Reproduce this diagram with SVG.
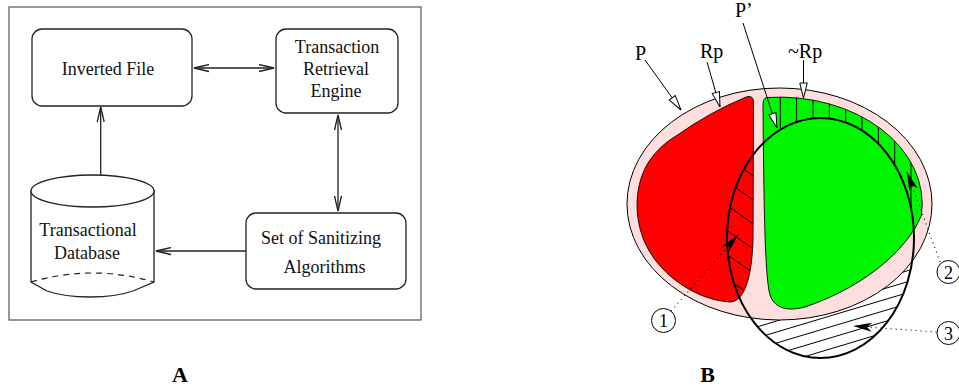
<svg xmlns="http://www.w3.org/2000/svg" width="959" height="387" viewBox="0 0 959 387">
<style>
.box{fill:#fff;stroke:#222;stroke-width:1.3}
.lbl{font-family:"Liberation Serif","Times New Roman",serif;font-size:18px;fill:#111;text-anchor:middle}
.conn{fill:none;stroke:#222;stroke-width:1.3}
.big{font-family:"Liberation Serif","Times New Roman",serif;font-size:22px;font-weight:bold;fill:#000;text-anchor:middle}
.tl{font-family:"Liberation Serif","Times New Roman",serif;font-size:20px;fill:#000}
.num{font-family:"Liberation Serif","Times New Roman",serif;font-size:18px;fill:#000;text-anchor:middle}
.thin{fill:none;stroke:#000;stroke-width:1}
.dot{fill:none;stroke:#000;stroke-width:1.1;stroke-dasharray:1 4}
.hatch{stroke:#000;stroke-width:1}
</style>
<defs>
<marker id="chev" markerUnits="userSpaceOnUse" markerWidth="17" markerHeight="9" refX="15" refY="3.5" orient="auto-start-reverse" viewBox="-1 -1 17 9">
<path d="M0,0 L15,3.5 L0,7" fill="none" stroke="#222" stroke-width="1.3"/>
</marker>
<marker id="tri" markerUnits="userSpaceOnUse" markerWidth="17" markerHeight="10" refX="15" refY="3.75" orient="auto" viewBox="-1 -1 17 10">
<path d="M0,0 L15,3.75 L0,7.5 Z" fill="#fff" stroke="#000" stroke-width="1"/>
</marker>
<marker id="blk" markerUnits="userSpaceOnUse" markerWidth="21" markerHeight="11" refX="19" refY="4.5" orient="auto" viewBox="-1 -1 21 11">
<path d="M0,0 L19,4.5 L0,9 L5,4.5 Z" fill="#000"/>
</marker>
<clipPath id="blackClip"><ellipse cx="820.5" cy="238" rx="93.5" ry="120"/></clipPath>
<clipPath id="redClip"><path d="M748,96.5 Q753.5,96 753.5,102 L753,240 C752,270 747,300 731,302 C700,301 662,278 646,245 C633,218 634,183 650,160 C657,150 666,142 676,136 Q710,112 745,97.5 Z"/></clipPath>
<clipPath id="greenClip"><path d="M767,97.5 A143 107 0 0 1 921.5,215 C910,245 870,285 805,307 C790,311 775,310 770,295 C766,280 764,240 763,105 Q763,97.5 767,97.5 Z"/></clipPath>
<mask id="outBlack"><rect x="600" y="0" width="359" height="387" fill="#fff"/><ellipse cx="820.5" cy="238" rx="93.5" ry="120" fill="#000"/></mask>
</defs>
<rect width="959" height="387" fill="#fff"/>

<!-- Panel A -->
<rect x="9" y="7" width="412" height="313" fill="none" stroke="#555" stroke-width="1.2"/>

<g id="inverted-file">
<rect class="box" x="32" y="29" width="160" height="77" rx="10"/>
<text class="lbl" x="108" y="75">Inverted File</text>
</g>
<g id="retrieval-engine">
<rect class="box" x="276" y="29" width="122" height="84" rx="10"/>
<text class="lbl"><tspan x="337" y="53">Transaction</tspan><tspan x="336" y="75">Retrieval</tspan><tspan x="336" y="97">Engine</tspan></text>
</g>
<g id="sanitizing">
<rect class="box" x="246" y="213" width="160" height="76" rx="10"/>
<text class="lbl"><tspan x="321" y="244">Set of Sanitizing</tspan><tspan x="324.5" y="273">Algorithms</tspan></text>
</g>
<g id="database">
<path class="box" d="M31,191 L31,282 L47,291 C70,299 110,299 133,291 L154,282 L154,191 Z"/>
<ellipse class="box" cx="92.5" cy="191" rx="61.5" ry="16"/>
<path d="M31,282 Q92.5,264 154,282" fill="none" stroke="#222" stroke-width="1.2" stroke-dasharray="6 5"/>
<text class="lbl"><tspan x="88" y="236">Transactional</tspan><tspan x="87" y="259">Database</tspan></text>
</g>
<g id="connectors-A">
<line class="conn" x1="194" y1="68" x2="274" y2="68" marker-start="url(#chev)" marker-end="url(#chev)"/>
<line class="conn" x1="338" y1="115" x2="338" y2="211" marker-start="url(#chev)" marker-end="url(#chev)"/>
<line class="conn" x1="100.7" y1="175" x2="100.7" y2="107" marker-end="url(#chev)"/>
<line class="conn" x1="246" y1="251" x2="156" y2="251" marker-end="url(#chev)"/>
</g>
<text class="big" x="180" y="382">A</text>

<!-- Panel B -->
<g id="panel-B">
<g clip-path="url(#blackClip)">
<g class="hatch">
<line x1="720" y1="316" x2="920" y2="256"/>
<line x1="720" y1="327" x2="920" y2="267"/>
<line x1="720" y1="338" x2="920" y2="278"/>
<line x1="720" y1="349" x2="920" y2="289"/>
<line x1="720" y1="360" x2="920" y2="300"/>
<line x1="720" y1="371" x2="920" y2="311"/>
<line x1="720" y1="382" x2="920" y2="322"/>
<line x1="720" y1="393" x2="920" y2="333"/>
<line x1="720" y1="404" x2="920" y2="344"/>
<line x1="720" y1="415" x2="920" y2="355"/>
<line x1="720" y1="426" x2="920" y2="366"/>
</g>
</g>
<g id="P">
<ellipse cx="779.5" cy="204" rx="152.5" ry="116" fill="#ffdede" stroke="#000" stroke-width="1"/>
</g>
<g id="Rp">
<path d="M748,96.5 Q753.5,96 753.5,102 L753,240 C752,270 747,300 731,302 C700,301 662,278 646,245 C633,218 634,183 650,160 C657,150 666,142 676,136 Q710,112 745,97.5 Z" fill="#ff0000" stroke="#000" stroke-width="0.9"/>
</g>
<g id="notRp">
<path d="M767,97.5 A143 107 0 0 1 921.5,215 C910,245 870,285 805,307 C790,311 775,310 770,295 C766,280 764,240 763,105 Q763,97.5 767,97.5 Z" fill="#00f500" stroke="#000" stroke-width="0.9"/>
<g clip-path="url(#greenClip)"><g mask="url(#outBlack)" class="hatch">
<line x1="780.3" y1="90" x2="780.3" y2="260"/>
<line x1="796.6" y1="90" x2="796.6" y2="260"/>
<line x1="813" y1="90" x2="813" y2="260"/>
<line x1="829.3" y1="90" x2="829.3" y2="260"/>
<line x1="845.7" y1="90" x2="845.7" y2="260"/>
<line x1="862" y1="90" x2="862" y2="260"/>
<line x1="878.4" y1="90" x2="878.4" y2="260"/>
<line x1="894.7" y1="90" x2="894.7" y2="260"/>
<line x1="911" y1="90" x2="911" y2="260"/>
</g></g>
</g>
<g clip-path="url(#blackClip)"><g clip-path="url(#redClip)" class="hatch">
<line x1="720" y1="152.6" x2="760" y2="180.6"/>
<line x1="720" y1="176.6" x2="760" y2="204.6"/>
<line x1="720" y1="200.6" x2="760" y2="228.6"/>
<line x1="720" y1="225.6" x2="760" y2="253.6"/>
<line x1="720" y1="249.6" x2="760" y2="277.6"/>
<line x1="720" y1="273.6" x2="760" y2="301.6"/>
</g></g>
<g id="P-prime">
<ellipse cx="820.5" cy="238" rx="93.5" ry="120" fill="none" stroke="#000" stroke-width="2"/>
</g>
<g id="labels-B">
<text class="tl" x="635" y="60">P</text>
<text class="tl" x="700" y="58">Rp</text>
<text class="tl" x="788" y="58">~Rp</text>
<text class="tl" x="735" y="17">P’</text>
<g id="c1"><circle cx="663.5" cy="320.5" r="12" fill="#fff" stroke="#000" stroke-width="1"/><text class="num" x="663.5" y="327">1</text></g>
<g id="c2"><circle cx="948.5" cy="272" r="11.5" fill="#fff" stroke="#000" stroke-width="1"/><text class="num" x="948.5" y="278.5">2</text></g>
<g id="c3"><circle cx="948.5" cy="333" r="11.5" fill="#fff" stroke="#000" stroke-width="1"/><text class="num" x="948.5" y="339.5">3</text></g>
</g>
<g id="connectors-B">
<line class="thin" x1="645" y1="60" x2="681" y2="110" marker-end="url(#tri)"/>
<line class="thin" x1="707" y1="62" x2="720" y2="107" marker-end="url(#tri)"/>
<line class="thin" x1="803.5" y1="60" x2="803.5" y2="98" marker-end="url(#tri)"/>
<line class="thin" x1="743" y1="23" x2="777" y2="128" marker-end="url(#tri)"/>
<line class="dot" x1="671" y1="311" x2="738" y2="235" marker-end="url(#blk)"/>
<line class="dot" x1="940" y1="262" x2="907" y2="172" marker-end="url(#blk)"/>
<line class="dot" x1="936.5" y1="332" x2="853" y2="326" marker-end="url(#blk)"/>
</g>
<text class="big" x="707.5" y="382">B</text>
</g>
</svg>
